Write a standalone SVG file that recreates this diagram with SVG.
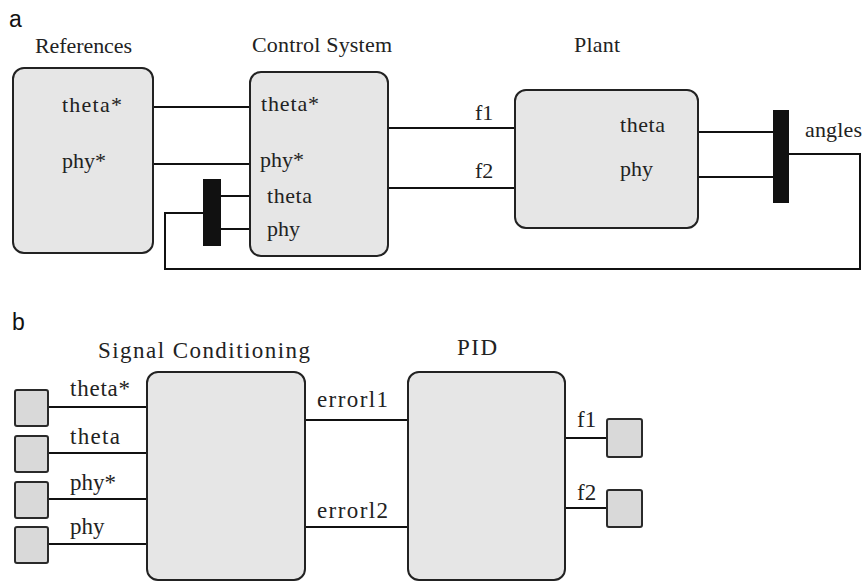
<svg xmlns="http://www.w3.org/2000/svg" width="863" height="582" viewBox="0 0 863 582">
  <style>
    .box { fill: #e6e6e6; stroke: #222; stroke-width: 2; }
    .sq { fill: #d9d9d9; stroke: #2a2a2a; stroke-width: 2; }
    .bar { fill: #111; }
    .wire { fill: none; stroke: #111; stroke-width: 2; }
    .t { font-family: "Liberation Serif", "Times New Roman", serif; font-size: 22px; fill: #222; }
    .tb { font-family: "Liberation Serif", "Times New Roman", serif; font-size: 23px; fill: #222; }
    .tag { font-family: "Liberation Sans", Arial, sans-serif; font-size: 23px; fill: #111; }
  </style>
  <rect width="863" height="582" fill="#ffffff"/>

  <text class="tag" x="9" y="27">a</text>
  <text class="tag" x="12" y="330">b</text>

  <g id="connectors">
    <path class="wire" d="M153 107 H250"/>
    <path class="wire" d="M153 164 H250"/>
    <path class="wire" d="M221 196 H250"/>
    <path class="wire" d="M221 229 H250"/>
    <path class="wire" d="M388 128 H515"/>
    <path class="wire" d="M388 188 H515"/>
    <path class="wire" d="M698 132 H773"/>
    <path class="wire" d="M698 177 H773"/>
    <path class="wire" d="M789 154 H860 V269 H165 V213 H204"/>
    <path class="wire" d="M48 407 H147"/>
    <path class="wire" d="M48 453 H147"/>
    <path class="wire" d="M48 499 H147"/>
    <path class="wire" d="M48 544 H147"/>
    <path class="wire" d="M305 420 H408"/>
    <path class="wire" d="M305 527 H408"/>
    <path class="wire" d="M565 438 H607"/>
    <path class="wire" d="M565 508 H607"/>
    <text class="t" x="475" y="120">f1</text>
    <text class="t" x="475" y="178">f2</text>
    <text class="t" x="805" y="137" textLength="57">angles</text>
    <text class="tb" x="317" y="407" textLength="71">errorl1</text>
    <text class="tb" x="317" y="518" textLength="71">errorl2</text>
    <text class="tb" x="577" y="427">f1</text>
    <text class="tb" x="577" y="500">f2</text>
    <text class="tb" x="70" y="396" textLength="60">theta*</text>
    <text class="tb" x="70" y="444" textLength="50">theta</text>
    <text class="tb" x="70" y="490">phy*</text>
    <text class="tb" x="70" y="534">phy</text>
  </g>

  <g id="references">
    <text class="t" x="35" y="53" textLength="97">References</text>
    <rect class="box" x="13" y="68" width="140" height="185" rx="11"/>
    <text class="t" x="62" y="112" textLength="60">theta*</text>
    <text class="t" x="62" y="168">phy*</text>
  </g>

  <g id="control-system">
    <text class="t" x="252" y="52" textLength="140">Control System</text>
    <rect class="box" x="250" y="72" width="138" height="184" rx="11"/>
    <text class="t" x="261" y="111" textLength="58">theta*</text>
    <text class="t" x="260" y="167">phy*</text>
    <text class="t" x="267" y="203" textLength="45">theta</text>
    <text class="t" x="267" y="236">phy</text>
  </g>

  <g id="mux-in">
    <rect class="bar" x="203" y="179" width="18" height="67"/>
  </g>

  <g id="plant">
    <text class="t" x="574" y="52" textLength="46">Plant</text>
    <rect class="box" x="515" y="90" width="183" height="138" rx="11"/>
    <text class="t" x="620" y="132" textLength="45">theta</text>
    <text class="t" x="620" y="176">phy</text>
  </g>

  <g id="mux-out">
    <rect class="bar" x="773" y="110" width="16" height="93"/>
  </g>

  <g id="signal-conditioning">
    <text class="tb" x="98" y="358" textLength="212">Signal Conditioning</text>
    <rect class="box" x="147" y="372" width="158" height="208" rx="11"/>
  </g>

  <g id="pid">
    <text class="tb" x="457" y="355" textLength="40">PID</text>
    <rect class="box" x="408" y="372" width="157" height="208" rx="11"/>
  </g>

  <g id="in-theta-ref"><rect class="sq" x="15" y="390" width="33" height="36" rx="2"/></g>
  <g id="in-theta"><rect class="sq" x="15" y="436" width="33" height="36" rx="2"/></g>
  <g id="in-phy-ref"><rect class="sq" x="15" y="482" width="33" height="36" rx="2"/></g>
  <g id="in-phy"><rect class="sq" x="15" y="527" width="33" height="36" rx="2"/></g>
  <g id="out-f1"><rect class="sq" x="607" y="419" width="35" height="38" rx="2"/></g>
  <g id="out-f2"><rect class="sq" x="607" y="490" width="35" height="37" rx="2"/></g>
</svg>
